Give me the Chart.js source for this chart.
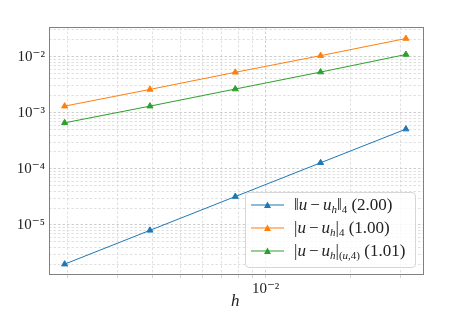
<!DOCTYPE html>
<html>
<head>
<meta charset="utf-8">
<script src="https://cdn.jsdelivr.net/npm/chart.js@4/dist/chart.umd.min.js"></script>
<style>
  html, body { margin: 0; padding: 0; background: #fff; }
  #wrap { position: relative; width: 457px; height: 311px; }
  #legend {
    position: absolute; left: 245px; top: 192px; width: 171px; height: 76px;
    box-sizing: border-box; border: 1px solid #d6d6d6; border-radius: 4px;
    background: rgba(255,255,255,0.8);
    font-family: "Liberation Serif", "DejaVu Serif", serif; font-size: 17px; color: #222;
  }
  .row { position: absolute; left: 5px; height: 20px; display: flex; align-items: center; white-space: nowrap; }
  .row svg { margin-right: 10px; }
  sub { font-size: 11px; vertical-align: -3px; line-height: 0; }
  .op { padding: 0 3px; }
  #xlabel { position: absolute; left: 231px; top: 291px; font: italic 17px "Liberation Serif", "DejaVu Serif", serif; color: #222; }
</style>
</head>
<body>
<div id="wrap">
  <canvas id="c" width="457" height="311"></canvas>
  <div id="legend"></div>
  <div id="xlabel">h</div>
</div>
<script>
// ---- data ----
const hValues = [0.001953, 0.003906, 0.007813, 0.015625, 0.03125];
const errL4 = [2.0e-6, 8.0e-6, 3.2e-5, 1.28e-4, 5.1e-4];
const errSemiL4 = [1.31e-3, 2.6e-3, 5.25e-3, 1.04e-2, 2.10e-2];
const errEnergy = [6.6e-4, 1.31e-3, 2.64e-3, 5.3e-3, 1.09e-2];
const seriesLabelsHtml = [
  '&#8214;<i>u</i><span class="op">&minus;</span><i>u</i><sub><i>h</i></sub>&#8214;<sub>4</sub>&nbsp;(2.00)',
  '|<i>u</i><span class="op">&minus;</span><i>u</i><sub><i>h</i></sub>|<sub>4</sub>&nbsp;(1.00)',
  '|<i>u</i><span class="op">&minus;</span><i>u</i><sub><i>h</i></sub>|<sub>(<i>u</i>,4)</sub>&nbsp;(1.01)'
];
const seriesColors = ['#1f77b4', '#ff7f0e', '#2ca02c'];
const xRange = [1.72e-3, 3.62e-2];
const yRange = [1.28e-6, 3.37e-2];

const sup = {'-':'\u207B','0':'\u2070','1':'\u00B9','2':'\u00B2','3':'\u00B3','4':'\u2074','5':'\u2075','6':'\u2076','7':'\u2077','8':'\u2078','9':'\u2079'};
function powLabel(v) {
  const e = Math.log10(v);
  const r = Math.round(e);
  if (Math.abs(e - r) > 1e-6) return '';
  return '10' + String(r).split('').map(ch => sup[ch]).join('');
}
function isPow10(v) { const e = Math.log10(v); return Math.abs(e - Math.round(e)) < 1e-6; }
function logTicks(min, max) {
  const out = [];
  for (let e = Math.floor(Math.log10(min)); e <= Math.ceil(Math.log10(max)); e++) {
    for (let s = 1; s <= 9; s++) {
      const v = s * Math.pow(10, e);
      if (v >= min && v <= max) out.push({ value: v, major: s === 1 });
    }
  }
  return out;
}

function mk(label, ys, color) {
  return {
    label, data: hValues.map((x, i) => ({ x, y: ys[i] })),
    borderColor: color, backgroundColor: color, borderWidth: 1,
    pointStyle: 'triangle', pointRadius: 3.5, pointHoverRadius: 3.5,
    showLine: true, fill: false, tension: 0
  };
}

const frame = {
  id: 'frame',
  afterDraw(chart) {
    const a = chart.chartArea, ctx = chart.ctx;
    ctx.save();
    ctx.strokeStyle = '#808080'; ctx.lineWidth = 1;
    ctx.strokeRect(Math.round(a.left) + 0.5, Math.round(a.top) + 0.5, Math.round(a.right - a.left) - 1, Math.round(a.bottom - a.top) - 1);
    ctx.restore();
  }
};

const gridColor = ctx => (ctx.tick && isPow10(ctx.tick.value)) ? '#c2c2c2' : '#d8d8d8';

new Chart(document.getElementById('c'), {
  type: 'scatter',
  data: { datasets: [
    mk('L4', errL4, seriesColors[0]),
    mk('W14', errSemiL4, seriesColors[1]),
    mk('energy', errEnergy, seriesColors[2])
  ]},
  options: {
    responsive: false, animation: false, devicePixelRatio: 1,
    layout: { padding: { top: 27, right: 33, left: 0, bottom: 0 } },
    plugins: { legend: { display: false }, tooltip: { enabled: false } },
    scales: {
      x: {
        type: 'logarithmic', min: xRange[0], max: xRange[1],
        afterBuildTicks: s => { s.ticks = logTicks(xRange[0], xRange[1]); },
        afterFit: s => { s.height = 36; },
        grid: { color: gridColor, lineWidth: 0.8, drawTicks: true, tickLength: 3, tickColor: '#cccccc' },
        border: { display: false, dash: [2.5, 2] },
        ticks: { autoSkip: false, maxRotation: 0, padding: 2, color: '#222',
          font: { family: '"Liberation Serif", "DejaVu Serif", serif', size: 15 },
          callback: v => powLabel(v) }
      },
      y: {
        type: 'logarithmic', min: yRange[0], max: yRange[1],
        afterBuildTicks: s => { s.ticks = logTicks(yRange[0], yRange[1]); },
        afterFit: s => { s.width = 49; },
        grid: { color: gridColor, lineWidth: 0.8, drawTicks: false },
        border: { display: false, dash: [2.5, 2] },
        ticks: { autoSkip: false, padding: 4, color: '#222',
          font: { family: '"Liberation Serif", "DejaVu Serif", serif', size: 15 },
          callback: v => powLabel(v) }
      }
    }
  },
  plugins: [frame]
});

// HTML legend built from the series arrays
const leg = document.getElementById('legend');
const rowTops = [2, 25, 48];
seriesLabelsHtml.forEach((html, i) => {
  const d = document.createElement('div');
  d.className = 'row';
  d.style.top = rowTops[i] + 'px';
  d.innerHTML = '<svg width="33" height="10"><line x1="0" y1="5" x2="33" y2="5" stroke="' + seriesColors[i] +
    '" stroke-width="1.2"/><polygon points="16.5,1.5 20,8 13,8" fill="' + seriesColors[i] + '"/></svg><span>' + html + '</span>';
  leg.appendChild(d);
});
</script>
</body>
</html>
